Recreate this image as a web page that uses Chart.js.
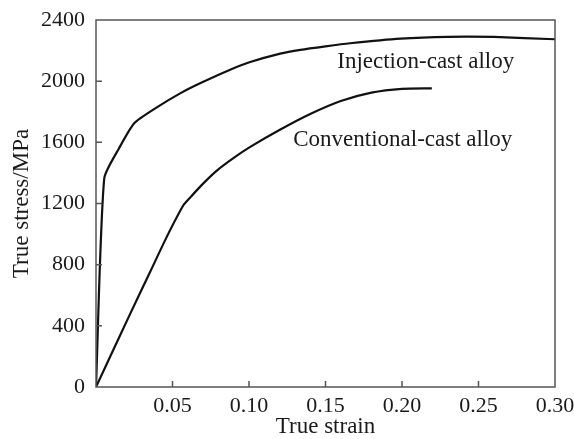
<!DOCTYPE html>
<html>
<head>
<meta charset="utf-8">
<script src="https://cdn.jsdelivr.net/npm/chart.js@4.4.1/dist/chart.umd.min.js"></script>
<style>
  html, body { margin: 0; padding: 0; background: #fff; }
  #wrap { width: 574px; height: 439px; }
</style>
</head>
<body>
<div id="wrap"><canvas id="stressChart"></canvas></div>
<script>
/* ======================
   DATA
====================== */

const injStrain = [0, 0.0054, 0.015, 0.025, 0.04, 0.055, 0.068, 0.0877, 0.1008, 0.1204, 0.1336, 0.15, 0.166, 0.199, 0.23, 0.26, 0.30];
const injStress = [0, 1365, 1560, 1725, 1830, 1920, 1986, 2075, 2125, 2180, 2205, 2228, 2248, 2278, 2290, 2289, 2274];

const convStrain = [0, 0.0224, 0.0355, 0.0464, 0.0572, 0.0616, 0.07, 0.079, 0.09, 0.1008, 0.1202, 0.14, 0.16, 0.18, 0.20, 0.2195];
const convStress = [0, 480, 755, 985, 1190, 1240, 1330, 1415, 1498, 1570, 1682, 1785, 1870, 1925, 1950, 1953];

const strainTicks = [0, 0.05, 0.10, 0.15, 0.20, 0.25, 0.30];
const stressTicks = [0, 400, 800, 1200, 1600, 2000, 2400];

const labels = [
  { text: "Injection-cast alloy", x: 0.2155, y: 2125 },
  { text: "Conventional-cast alloy", x: 0.2005, y: 1615 }
];

const serif = "'Liberation Serif', 'DejaVu Serif', serif";

/* ======================
   FRAME + INWARD TICKS
====================== */

const framePlugin = {
  id: "frame",
  afterDraw(chart) {
    const { ctx, chartArea: a, scales } = chart;
    ctx.save();
    ctx.strokeStyle = "#555";
    ctx.lineWidth = 1.5;
    ctx.strokeRect(a.left, a.top, a.right - a.left, a.bottom - a.top);

    ctx.beginPath();
    stressTicks.slice(1, -1).forEach(v => {
      const y = scales.y.getPixelForValue(v);
      ctx.moveTo(a.left, y);
      ctx.lineTo(a.left + 6, y);
    });
    strainTicks.slice(1, -1).forEach(v => {
      const x = scales.x.getPixelForValue(v);
      ctx.moveTo(x, a.bottom);
      ctx.lineTo(x, a.bottom - 6);
    });
    ctx.stroke();

    ctx.fillStyle = "#1a1a1a";
    ctx.font = "23px " + serif;
    ctx.textAlign = "center";
    ctx.textBaseline = "middle";
    labels.forEach(l => {
      ctx.fillText(l.text, scales.x.getPixelForValue(l.x), scales.y.getPixelForValue(l.y));
    });
    ctx.restore();
  }
};

/* ======================
   STRESS-STRAIN CHART
====================== */

const ctx = document.getElementById("stressChart").getContext("2d");

new Chart(ctx, {
  type: "line",
  data: {
    datasets: [
      {
        label: "Injection-cast alloy",
        data: injStrain.map((x, i) => ({ x, y: injStress[i] }))
      },
      {
        label: "Conventional-cast alloy",
        data: convStrain.map((x, i) => ({ x, y: convStress[i] }))
      }
    ]
  },
  options: {
    responsive: true,
    maintainAspectRatio: false,
    animation: false,
    layout: { padding: { top: 20, right: 19, left: 0, bottom: 0 } },
    elements: {
      line: { borderColor: "#111", borderWidth: 2.2, tension: 0.2, fill: false },
      point: { radius: 0 }
    },
    plugins: {
      legend: { display: false },
      tooltip: { enabled: false }
    },
    scales: {
      x: {
        type: "linear",
        min: 0,
        max: 0.30,
        afterFit: s => {
          s.height = 52;
          s.paddingLeft = 0;
          s.paddingRight = 0;
        },
        afterBuildTicks: s => { s.ticks = strainTicks.map(v => ({ value: v })); },
        grid: { display: false, drawTicks: false },
        border: { display: false },
        ticks: {
          padding: 6,
          color: "#1a1a1a",
          font: { family: serif, size: 22 },
          callback: v => (v === 0 ? "" : v.toFixed(2))
        },
        title: {
          display: true,
          text: "True strain",
          color: "#1a1a1a",
          font: { family: serif, size: 23 },
          padding: { top: 2, bottom: -2 }
        }
      },
      y: {
        min: 0,
        max: 2400,
        afterFit: s => {
          s.width = 96;
          s.paddingTop = 0;
          s.paddingBottom = 0;
        },
        afterBuildTicks: s => { s.ticks = stressTicks.map(v => ({ value: v })); },
        grid: { display: false, drawTicks: false },
        border: { display: false },
        ticks: {
          padding: 11,
          color: "#1a1a1a",
          font: { family: serif, size: 22 },
          callback: v => String(v)
        },
        title: {
          display: true,
          text: "True stress/MPa",
          color: "#1a1a1a",
          font: { family: serif, size: 23 },
          padding: { top: 8, bottom: 4 }
        }
      }
    }
  },
  plugins: [framePlugin]
});
</script>
</body>
</html>
